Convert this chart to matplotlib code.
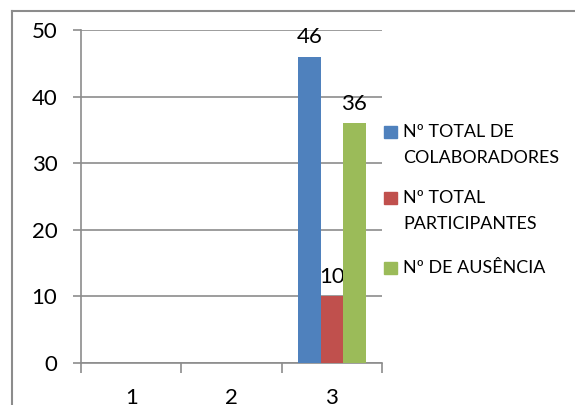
import numpy as np
import matplotlib.pyplot as plt
from matplotlib.lines import Line2D
from matplotlib.patches import Rectangle

plt.rcParams['font.family'] = ['Lato', 'DejaVu Sans']

# Data
categories = ['1', '2', '3']
series_names = [['Nº TOTAL DE', 'COLABORADORES'], ['Nº TOTAL', 'PARTICIPANTES'], ['Nº DE AUSÊNCIA']]
colaboradores = [np.nan, np.nan, 46]
participantes = [np.nan, np.nan, 10]
ausencia = [np.nan, np.nan, 36]
series_values = [colaboradores, participantes, ausencia]
colors = ['#4F81BD', '#C0504D', '#9BBB59']

GRAY = '#8C8C8C'

fig = plt.figure(figsize=(5.75, 4.05), dpi=100)
ax = fig.add_axes([81 / 575, 42 / 405, 301 / 575, 333 / 405])

x = np.arange(len(categories))
width = 0.224
for i, (vals, c) in enumerate(zip(series_values, colors)):
    bars = ax.bar(x + (i - 1) * width, vals, width, color=c, zorder=3)
    labels = ['' if np.isnan(v) else f'{v:g}' for v in vals]
    ax.bar_label(bars, labels=labels, padding=7, fontsize=16, color='black')

ax.set_xlim(-0.5, len(categories) - 0.5)
ax.set_ylim(0, 50)
ax.set_yticks(range(0, 51, 10))
ax.yaxis.grid(True, color=GRAY, linewidth=1.2, zorder=0)

# category boundaries as tick marks, labels in between
ax.set_xticks(np.arange(-0.5, len(categories), 1.0))
ax.set_xticklabels([])
ax.set_xticks(x, minor=True)
ax.set_xticklabels(categories, minor=True)
ax.tick_params(axis='x', which='major', length=7, width=1.2, color=GRAY)
ax.tick_params(axis='x', which='minor', length=0, pad=18, labelsize=16)
ax.tick_params(axis='y', length=6, width=1.2, color=GRAY, pad=11, labelsize=16)

for side in ['top', 'right']:
    ax.spines[side].set_visible(False)
for side in ['left', 'bottom']:
    ax.spines[side].set_color(GRAY)
    ax.spines[side].set_linewidth(1.2)

# legend drawn by hand (handles sit at first text line)
legend_y = [132, 198, 268]
line_step = 26
for lines, c, yy in zip(series_names, colors, legend_y):
    fig.patches.append(Rectangle((384 / 575, 1 - (yy + 6) / 405), 13 / 575, 12 / 405,
                                 color=c, transform=fig.transFigure))
    for k, line in enumerate(lines):
        fig.text(403 / 575, 1 - (yy + k * line_step) / 405, line, fontsize=12.9,
                 va='center', ha='left', transform=fig.transFigure)

# outer chart border (left and top visible)
fig.add_artist(Line2D([12 / 575, 12 / 575], [0, 1 - 11 / 405], color=GRAY, lw=1.5))
fig.add_artist(Line2D([12 / 575, 1], [1 - 11 / 405, 1 - 11 / 405], color=GRAY, lw=1.5))

fig.savefig('out.png', dpi=100)
